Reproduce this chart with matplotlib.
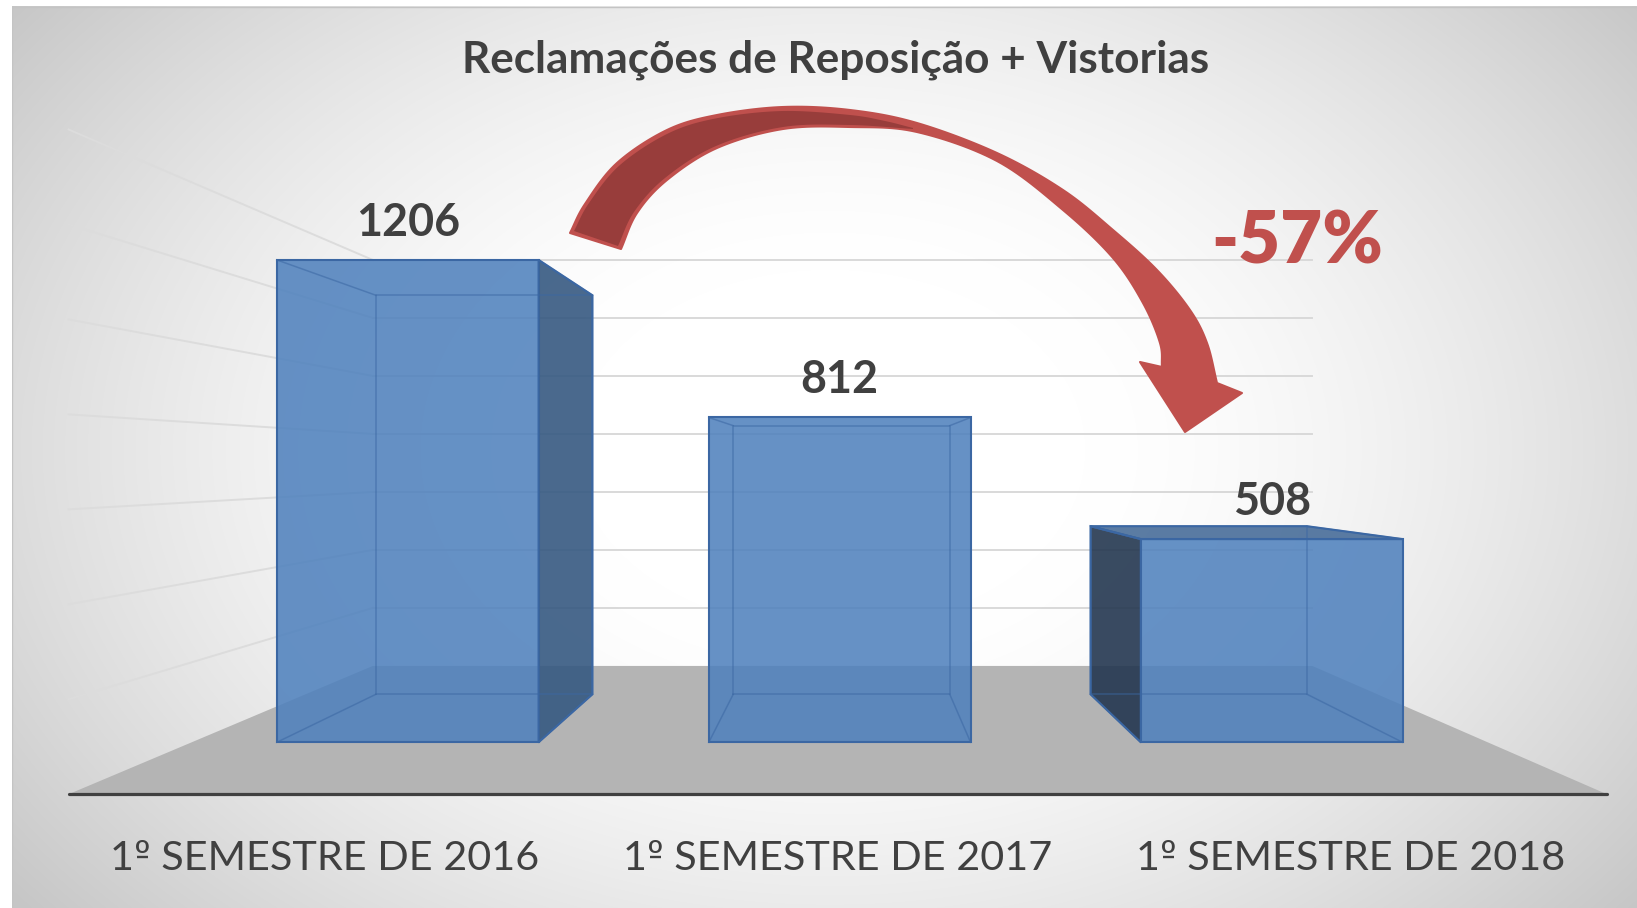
import numpy as np
import matplotlib
matplotlib.use("Agg")
import matplotlib.pyplot as plt
from matplotlib.patches import Polygon
from matplotlib.lines import Line2D
from matplotlib.colors import to_rgba

# ---------------- data ----------------
categories = ["1º SEMESTRE DE 2016", "1º SEMESTRE DE 2017", "1º SEMESTRE DE 2018"]
values = [1206, 812, 508]
grid_values = [200, 400, 600, 800, 1000, 1200, 1400]
title_text = "Reclamações de Reposição + Vistorias"
change_text = "-57%"

# ---------------- layout / style ----------------
W, H = 1637, 908
PX_X0, PX_PER_CAT = 407.7, 432.0      # pixel x of category 0, pixels per category
PX_Y0, PX_PER_VAL = 742.3, 0.4        # pixel y (from top) of value 0, pixels per unit
VP = (1.024, 694.25)                  # vanishing point in data coords
S_BACK, S_FLOOR_FRONT, S_WALL = 0.827, 1.187, 0.725
BAR_W = 0.606
BOX = (-0.5, 2.5)
CAT_OFFSET_PT = -54.7

FACE = to_rgba("#4f81bd", 0.87)
EDGE = "#3b67a3"
SIDE_R = to_rgba("#365981", 0.9)
SIDE_L = to_rgba("#243750", 0.9)
TOP = to_rgba("#3e6594", 0.85)
TXT = "#404040"
RED = "#c0504d"
DARK_RED = "#983d3b"
FONT = "Lato"
CAT_FONT = "Lato"
LATO_CAP = 0.7165

fig = plt.figure(figsize=(W / 100, H / 100), dpi=100)
fig.patch.set_facecolor("white")

# background gradient
bg = fig.add_axes([12 / W, 0, (W - 12) / W, (H - 6) / H], zorder=-10)
xs = np.arange(12, W) + 0.5
ys = np.arange(6, H) + 0.5
X, Y = np.meshgrid(xs, ys)
d = np.sqrt(((X - 830) / 850) ** 2 + ((Y - 450) / 600) ** 2)
g = 255 - 57 * np.clip((d - 0.3) / 0.92, 0, 1) ** 1.5
img = np.dstack([g, g, g]) / 255.0
bg.imshow(img, extent=[12, W, H, 6], aspect="auto", interpolation="bilinear")
bg.set_xlim(12, W)
bg.set_ylim(H, 6)
bg.axis("off")
bg.plot([12.5, 12.5], [6, H], color="#c4c4c4", lw=1)
bg.plot([12, W], [6.5, 6.5], color="#c4c4c4", lw=1)

# main data axes (front plane is linear in data coords)
ax = fig.add_axes([0, 0, 1, 1])
ax.set_xlim(-PX_X0 / PX_PER_CAT, (W - PX_X0) / PX_PER_CAT)
ax.set_ylim(-(H - PX_Y0) / PX_PER_VAL, PX_Y0 / PX_PER_VAL)
ax.axis("off")
ax.patch.set_alpha(0)


def proj(x, v, s):
    return (VP[0] + s * (x - VP[0]), VP[1] + s * (v - VP[1]))


# floor
floor = [proj(BOX[0], 0, S_FLOOR_FRONT), proj(BOX[1], 0, S_FLOOR_FRONT),
         proj(BOX[1], 0, S_WALL), proj(BOX[0], 0, S_WALL)]
ax.add_patch(Polygon(floor, closed=True, facecolor="#b4b4b4", edgecolor="none", zorder=1))

# gridlines on back and left walls
for gv in grid_values:
    a = proj(BOX[0], gv, S_WALL)
    b = proj(BOX[1], gv, S_WALL)
    c = proj(BOX[0], gv, S_FLOOR_FRONT)
    ax.plot([a[0], b[0]], [a[1], b[1]], color="#d9d9d9", lw=1.4, zorder=1.5)
    ax.plot([c[0], a[0]], [c[1], a[1]], color="#dcdcdc", lw=1.4, zorder=1.5)

# floor front edge
f0 = proj(BOX[0], 0, S_FLOOR_FRONT)
f1 = proj(BOX[1], 0, S_FLOOR_FRONT)
ax.plot([f0[0], f1[0]], [f0[1], f1[1]], color="#404040", lw=2.3, zorder=2,
        solid_capstyle="round")

# bars
pos = np.arange(len(values))
ax.bar(pos, values, width=BAR_W, color=FACE, edgecolor=EDGE, linewidth=1.5, zorder=5)

for i, v in zip(pos, values):
    x0, x1 = i - BAR_W / 2, i + BAR_W / 2
    front = [(x0, 0), (x1, 0), (x1, v), (x0, v)]
    back = [proj(px, py, S_BACK) for px, py in front]
    # hidden edges seen through the transparent bar
    bx = [p[0] for p in back] + [back[0][0]]
    by = [p[1] for p in back] + [back[0][1]]
    ax.plot(bx, by, color=EDGE, lw=1.1, alpha=0.55, zorder=6)
    for fp, bp in zip(front, back):
        ax.plot([fp[0], bp[0]], [fp[1], bp[1]], color=EDGE, lw=1.1, alpha=0.55, zorder=6)
    # visible side faces
    if back[1][0] > x1:
        ax.add_patch(Polygon([front[1], front[2], back[2], back[1]], closed=True,
                             facecolor=SIDE_R, edgecolor=EDGE, lw=1.5, zorder=5))
    if back[0][0] < x0:
        ax.add_patch(Polygon([front[0], front[3], back[3], back[0]], closed=True,
                             facecolor=SIDE_L, edgecolor=EDGE, lw=1.5, zorder=5))
    if v < VP[1]:
        ax.add_patch(Polygon([front[3], front[2], back[2], back[3]], closed=True,
                             facecolor=TOP, edgecolor=EDGE, lw=1.5, zorder=5))

# value labels
val_texts = []
for i, v in zip(pos, values):
    t = ax.annotate(f"{v}", (i, v), xytext=(0, 17.3), textcoords="offset points",
                    ha="center", va="baseline", fontsize=40, fontweight="bold",
                    color=TXT, family=FONT, zorder=10)
    val_texts.append(t)

# category labels on floor front edge
cat_texts = []
cat_anchor = []
for i, c in zip(pos, categories):
    p = proj(i, 0, S_FLOOR_FRONT)
    t = ax.annotate(c, p, xytext=(0, CAT_OFFSET_PT), textcoords="offset points",
                    ha="center", va="baseline", fontsize=30, color=TXT,
                    family=CAT_FONT, zorder=10)
    cat_texts.append(t)
    cat_anchor.append(p)

# overlay in pixel coordinates for title and decoration
ov = fig.add_axes([0, 0, 1, 1], zorder=5)
ov.set_xlim(0, W)
ov.set_ylim(H, 0)
ov.axis("off")
ov.patch.set_alpha(0)

title = ov.text(836, 72, title_text, ha="center", va="baseline", fontsize=30,
                fontweight="bold", color=TXT, family=FONT)
pct = ov.text(1297, 263, change_text, ha="center", va="baseline", fontsize=50,
              fontweight="heavy", color=RED, family=FONT)


def catmull(pts, n=14):
    P = np.asarray(pts, float)
    P = np.vstack([2 * P[0] - P[1], P, 2 * P[-1] - P[-2]])
    out = []
    for k in range(1, len(P) - 2):
        p0, p1, p2, p3 = P[k - 1], P[k], P[k + 1], P[k + 2]
        for t in np.linspace(0, 1, n, endpoint=False):
            out.append(0.5 * (2 * p1 + (-p0 + p2) * t
                              + (2 * p0 - 5 * p1 + 4 * p2 - p3) * t * t
                              + (-p0 + 3 * p1 - 3 * p2 + p3) * t ** 3))
    out.append(P[-2])
    return np.array(out)


# curved arrow (decoration)
outer = [(570, 233), (585, 204), (617, 163), (667, 130), (717, 115), (783, 107),
         (850, 110), (917, 123), (997, 153), (1063, 190), (1113, 230), (1157, 270),
         (1190, 310), (1207, 343), (1217, 383)]
inner = [(621, 249), (637, 213), (667, 180), (717, 148), (783, 129), (850, 127),
         (917, 132), (997, 161), (1063, 210), (1113, 258), (1143, 303), (1160, 343),
         (1162, 367)]
head = [(1242, 393), (1185, 432), (1140, 362)]
o = catmull(outer)
inn = catmull(inner)
arrow_pts = np.vstack([o, head, inn[::-1]])
ov.add_patch(Polygon(arrow_pts, closed=True, facecolor=RED, edgecolor=RED, lw=1.5,
                     joinstyle="round"))
dark_top = [(574, 231), (589, 203), (620, 165), (669, 133), (718, 118), (783, 111),
            (850, 115), (885, 121), (913, 128)]
dark_bot = [(618, 246), (634, 212), (665, 178), (716, 146), (783, 127), (850, 125),
            (913, 129)]
dt = catmull(dark_top)
db = catmull(dark_bot)
ov.add_patch(Polygon(np.vstack([dt, db[::-1]]), closed=True, facecolor=DARK_RED,
                     edgecolor="none"))

# fit text sizes to the measured widths
fig.canvas.draw()
r = fig.canvas.get_renderer()


def fit(texts, target):
    w = texts[0].get_window_extent(r).width
    s = texts[0].get_fontsize() * target / w
    for t in texts:
        t.set_fontsize(s)


fit([title], 746)
fit(val_texts, 104)
fit(cat_texts, 429)
fit([pct], 172)

# underline of the ordinal indicator (Calibri-style "º")
fig.canvas.draw()
r = fig.canvas.get_renderer()
for t, p in zip(cat_texts, cat_anchor):
    fs = t.get_fontsize()
    bb = t.get_window_extent(r)
    tmp1 = fig.text(0, 0, t.get_text()[:1], fontsize=fs, family=CAT_FONT)
    tmp2 = fig.text(0, 0, t.get_text()[:2], fontsize=fs, family=CAT_FONT)
    w1 = tmp1.get_window_extent(r).width
    w2 = tmp2.get_window_extent(r).width
    tmp1.remove()
    tmp2.remove()
    adv = w2 - w1
    xc = bb.x0 + w1 + adv * 0.5
    half = adv * 0.33
    base_y = ax.transData.transform(p)[1] + CAT_OFFSET_PT * 100 / 72
    cap = LATO_CAP * fs * 100 / 72
    uy = base_y + 0.43 * cap
    fig.add_artist(Line2D([(xc - half) / W, (xc + half) / W], [uy / H, uy / H],
                          transform=fig.transFigure, color=TXT, lw=1.7,
                          solid_capstyle="butt", zorder=20))

fig.savefig("out.png", dpi=100, facecolor="white")
